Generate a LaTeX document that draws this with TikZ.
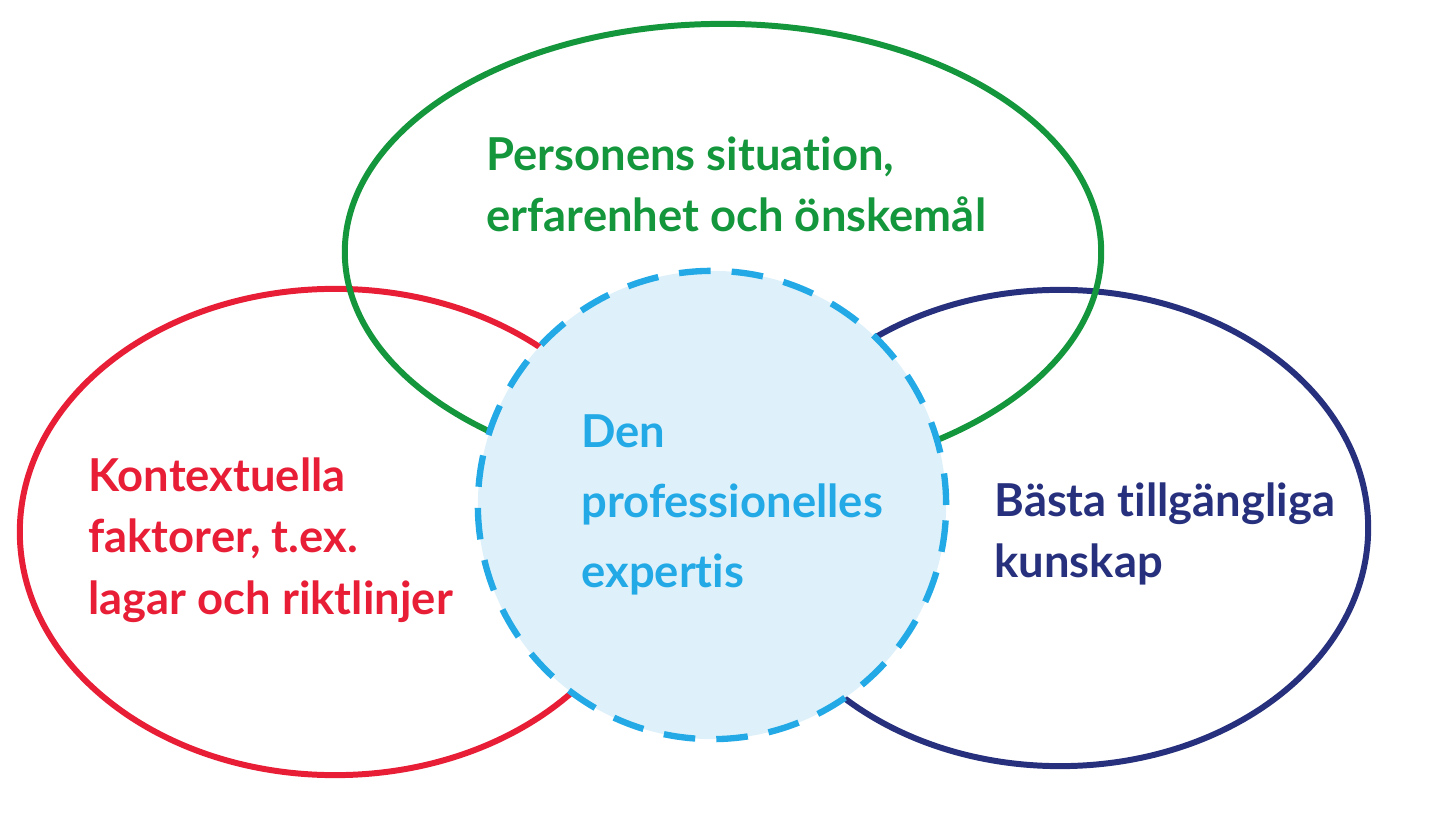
\documentclass[tikz,border=0pt]{standalone}
\usepackage{fontspec}
\setmainfont{Lato}[Ligatures={NoCommon,NoRare}]
\usetikzlibrary{shapes.geometric}
\definecolor{sitgreen}{RGB}{20,150,60}
\definecolor{ctxred}{RGB}{232,30,55}
\definecolor{knownavy}{RGB}{38,48,125}
\definecolor{expblue}{RGB}{35,170,230}
\definecolor{expfill}{RGB}{222,241,250}
\tikzset{
  area/.style={ellipse, line width=1.7pt, inner sep=0pt},
  label/.style={anchor=north west, align=left, font=\fontsize{12.9}{17.5}\selectfont\bfseries}
}
\begin{document}
\begin{tikzpicture}[x=0.01cm,y=-0.01cm]
\useasboundingbox (0,0) rectangle (1442,840);
% the three areas
\node[area, draw=ctxred, minimum width=6.30cm, minimum height=4.86cm] (context) at (335,532) {};
\node[area, draw=knownavy, minimum width=6.16cm, minimum height=4.76cm] (knowledge) at (1060,528) {};
\node[area, draw=sitgreen, minimum width=7.56cm, minimum height=4.56cm] (person) at (723,252) {};
% the expertise in the middle
\node[circle, draw=expblue, fill=expfill, line width=1.8pt, dash pattern=on 9pt off 6pt,
  minimum size=4.68cm, inner sep=0pt] (expertise) at (712,505) {};
% texts
\node[label, text=sitgreen] (persontext) at (474,124) {Personens situation,\\erfarenhet och önskemål};
\node[label, text=ctxred] (contexttext) at (76,445) {Kontextuella\\faktorer, t.ex.\\lagar och riktlinjer};
\node[label, text=knownavy] (knowledgetext) at (982,470) {Bästa tillgängliga\\kunskap};
\node[label, text=expblue, font=\fontsize{12.9}{20}\selectfont\bfseries] (expertisetext) at (569,402) {Den\\professionelles\\expertis};
\end{tikzpicture}
\end{document}
